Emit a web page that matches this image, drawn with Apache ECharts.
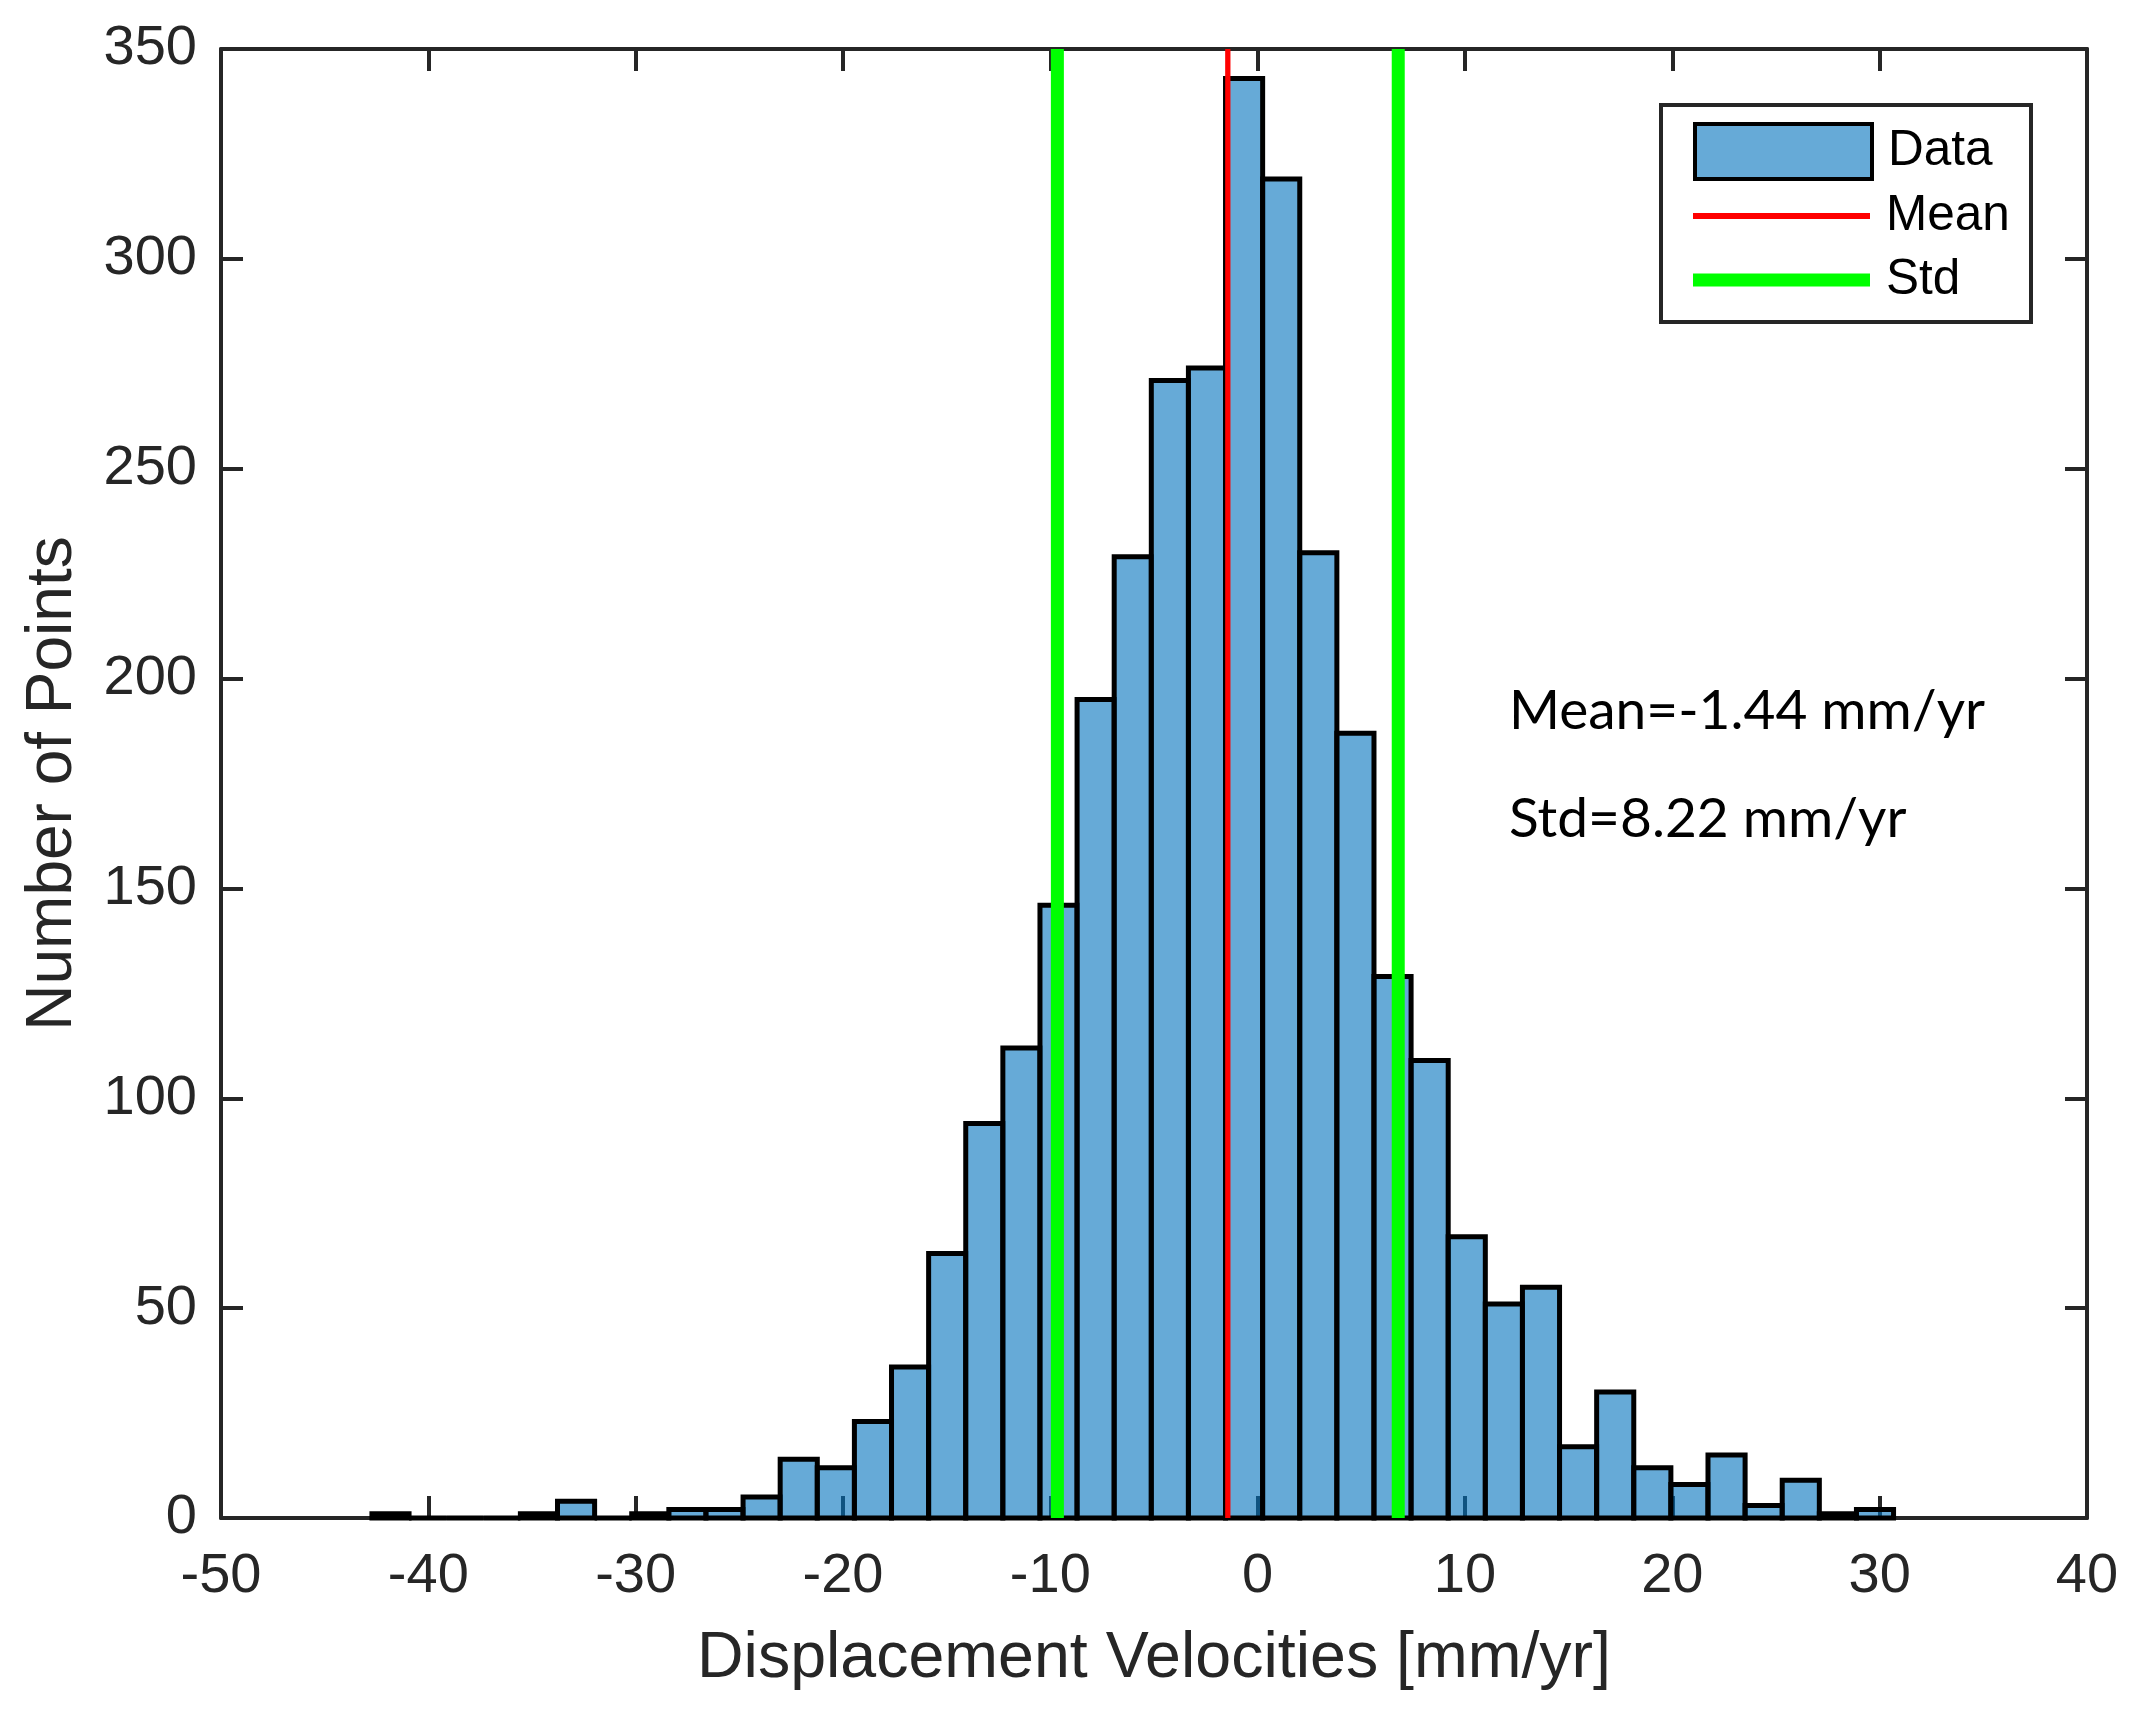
<!DOCTYPE html>
<html>
<head>
<meta charset="utf-8">
<script src="https://cdn.jsdelivr.net/npm/echarts@6/dist/echarts.min.js"></script>
<style>
  html, body { margin: 0; padding: 0; background: #ffffff; }
  #chart { width: 2155px; height: 1711px; }
</style>
</head>
<body>
<div id="chart"></div>
<script>
// ---- data ----
const binEdges = [-42.72, -40.93, -39.14, -37.35, -35.56, -33.77, -31.98, -30.19, -28.40, -26.61,
  -24.82, -23.03, -21.24, -19.45, -17.66, -15.87, -14.08, -12.29, -10.50, -8.71,
  -6.92, -5.13, -3.34, -1.55, 0.24, 2.03, 3.82, 5.61, 7.40, 9.19,
  10.98, 12.77, 14.56, 16.35, 18.14, 19.93, 21.72, 23.51, 25.30, 27.09,
  28.88, 30.67];
const counts = [1, 0, 0, 0, 1, 4, 0, 1, 2, 2,
  5, 14, 12, 23, 36, 63, 94, 112, 146, 195,
  229, 271, 274, 343, 319, 230, 187, 129, 109, 67,
  51, 55, 17, 30, 12, 8, 15, 3, 9, 1,
  2];
const meanValue = -1.44;
const stdValue = 8.22;
const stdLines = [-9.66, 6.78];
const xRange = [-50, 40];
const yRange = [0, 350];
const legendNames = ['Data', 'Mean', 'Std'];
const annotationTexts = ['Mean=-1.44 mm/yr', 'Std=8.22 mm/yr'];
const xAxisTitle = 'Displacement Velocities [mm/yr]';
const yAxisTitle = 'Number of Points';

// ---- build ----
const histData = counts.map((c, i) => [binEdges[i], binEdges[i + 1], c]);
const axisColor = '#262626';
const tickFont = 'Liberation Sans';

const chart = echarts.init(document.getElementById('chart'), null, { renderer: 'canvas' });

function axisCommon(show) {
  return {
    axisLine: { show: true, onZero: false, lineStyle: { color: axisColor, width: 4 } },
    axisTick: { show: true, inside: true, length: 22, lineStyle: { color: axisColor, width: 4 } },
    splitLine: { show: false },
    axisLabel: { show: show }
  };
}

const option = {
  backgroundColor: '#ffffff',
  animation: false,
  grid: { left: 221, right: 68, top: 49, bottom: 193, containLabel: false },
  xAxis: [
    Object.assign(axisCommon(true), {
      type: 'value', position: 'bottom', min: xRange[0], max: xRange[1], interval: 10,
      name: xAxisTitle, nameLocation: 'middle', nameGap: 141,
      nameTextStyle: { fontFamily: tickFont, fontSize: 64.5, color: axisColor, verticalAlign: 'middle' },
      axisLabel: { show: true, fontFamily: tickFont, fontSize: 56, color: axisColor, margin: 59, verticalAlign: 'middle' }
    }),
    Object.assign(axisCommon(false), {
      type: 'value', position: 'top', min: xRange[0], max: xRange[1], interval: 10
    })
  ],
  yAxis: [
    Object.assign(axisCommon(true), {
      type: 'value', position: 'left', min: yRange[0], max: yRange[1], interval: 50,
      name: yAxisTitle, nameLocation: 'middle', nameGap: 168, nameRotate: 90,
      nameTextStyle: { fontFamily: tickFont, fontSize: 64, color: axisColor, verticalAlign: 'middle' },
      axisLabel: { show: true, fontFamily: tickFont, fontSize: 56, color: axisColor, margin: 24 }
    }),
    Object.assign(axisCommon(false), {
      type: 'value', position: 'right', min: yRange[0], max: yRange[1], interval: 50
    })
  ],
  legend: [
    {
      data: [{ name: legendNames[0], icon: 'rect',
        itemStyle: { color: 'rgba(0,114,189,0.6)', borderColor: '#000000', borderWidth: 4 } }],
      left: 1693, top: 122, padding: 0, itemWidth: 177, itemHeight: 55,
      textStyle: { fontFamily: tickFont, fontSize: 49.5, color: '#000000', padding: [0, 0, 0, 11], lineHeight: 50 },
      selectedMode: false, z: 20
    },
    {
      data: [{ name: legendNames[1], icon: 'rect', itemStyle: { color: '#ff0000', borderWidth: 0 } }],
      left: 1693, top: 191, padding: 0, itemWidth: 177, itemHeight: 6,
      textStyle: { fontFamily: tickFont, fontSize: 49.5, color: '#000000', padding: [0, 0, 0, 11], lineHeight: 50 },
      selectedMode: false, z: 20
    },
    {
      data: [{ name: legendNames[2], icon: 'rect', itemStyle: { color: '#00ff00', borderWidth: 0 } }],
      left: 1693, top: 255, padding: 0, itemWidth: 177, itemHeight: 13,
      textStyle: { fontFamily: tickFont, fontSize: 49.5, color: '#000000', padding: [0, 0, 0, 11], lineHeight: 50 },
      selectedMode: false, z: 20
    }
  ],
  graphic: [
    { type: 'rect', z: 10, shape: { x: 1661, y: 105, width: 370, height: 217 },
      style: { fill: '#ffffff', stroke: axisColor, lineWidth: 4 } },
    { type: 'text', z: 10, style: { x: 1509, y: 711, text: annotationTexts[0],
      font: '55px Lato', fill: '#000000', verticalAlign: 'middle' } },
    { type: 'text', z: 10, style: { x: 1509, y: 819, text: annotationTexts[1],
      font: '55px Lato', fill: '#000000', verticalAlign: 'middle' } }
  ],
  series: [
    {
      name: legendNames[0],
      type: 'custom',
      z: 3,
      clip: false,
      data: histData,
      encode: { x: [0, 1], y: 2 },
      renderItem: function (params, api) {
        const p0 = api.coord([api.value(0), api.value(2)]);
        const p1 = api.coord([api.value(1), 0]);
        return {
          type: 'rect',
          shape: { x: p0[0], y: p0[1], width: p1[0] - p0[0], height: p1[1] - p0[1] },
          style: { fill: 'rgba(0,114,189,0.6)', stroke: '#000000', lineWidth: 5 }
        };
      }
    },
    {
      name: legendNames[1], type: 'line', z: 5, symbol: 'none',
      data: [[meanValue, yRange[0]], [meanValue, yRange[1]]],
      lineStyle: { color: '#ff0000', width: 5.3 }, itemStyle: { color: '#ff0000' }
    },
    {
      name: legendNames[2], type: 'line', z: 5, symbol: 'none',
      data: [[stdLines[0], yRange[0]], [stdLines[0], yRange[1]]],
      lineStyle: { color: '#00ff00', width: 13 }, itemStyle: { color: '#00ff00' }
    },
    {
      name: legendNames[2], type: 'line', z: 5, symbol: 'none',
      data: [[stdLines[1], yRange[0]], [stdLines[1], yRange[1]]],
      lineStyle: { color: '#00ff00', width: 13 }, itemStyle: { color: '#00ff00' }
    }
  ]
};
chart.setOption(option);
</script>
</body>
</html>
